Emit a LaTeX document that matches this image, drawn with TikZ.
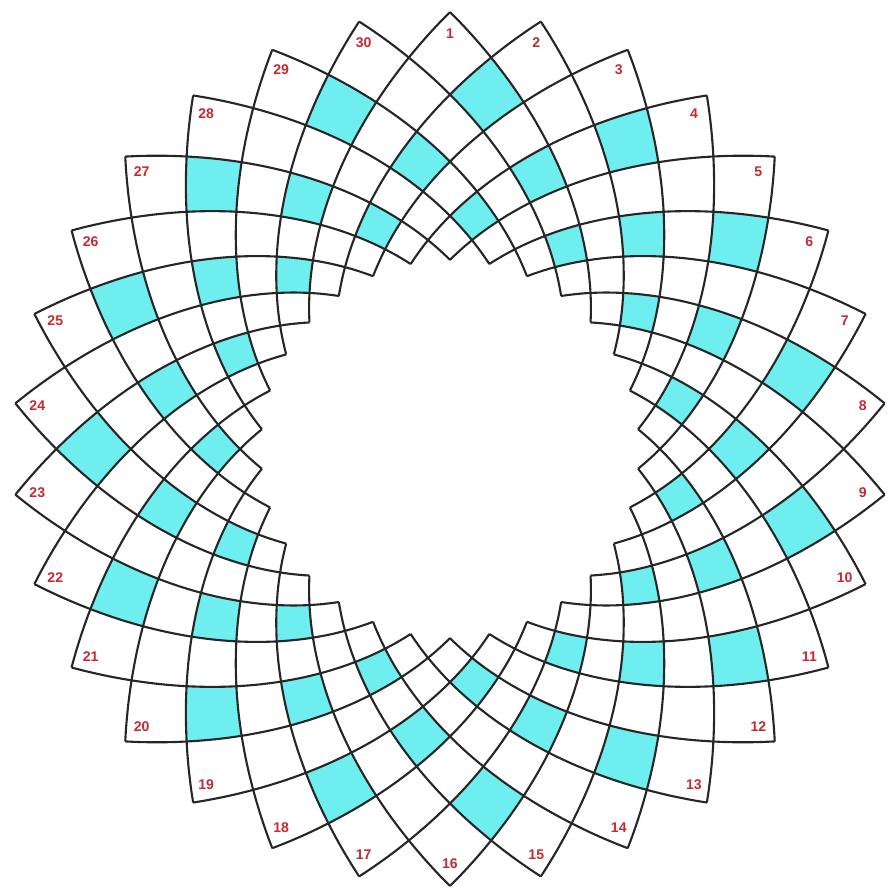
\documentclass[tikz,border=0pt]{standalone}
\usepackage{fontspec}
\setsansfont{Liberation Sans}
\definecolor{labred}{RGB}{200,40,50}
\definecolor{cellcyan}{RGB}{110,238,238}
\newcommand{\cyancell}[2]{%
  \fill[cyanfill] plot[domain=0:6,samples=7,variable=\t] ({#1-\t}:{rr(#2-6+\t)})
    -- plot[domain=0:6,samples=7,variable=\t] ({#1-6+\t}:{rr(#2+\t)})
    -- plot[domain=0:6,samples=7,variable=\t] ({#1+\t}:{rr(#2+6-\t)})
    -- plot[domain=0:6,samples=7,variable=\t] ({#1+6-\t}:{rr(#2-\t)}) -- cycle;}
\begin{document}
\begin{tikzpicture}[x=1cm,y=1cm,
  declare function={rr(\s)=4.37*exp(-\s*pi/180);},
  spir/.style={draw=black!85, line width=0.6pt, line join=round},
  cyanfill/.style={fill=cellcyan},
  lab/.style={text=labred, font=\sffamily\bfseries\fontsize{4}{4}\selectfont, inner sep=0pt}]
\useasboundingbox (0,0) rectangle (8.88,8.88);
\begin{scope}[shift={(4.50,4.39)}]
  \foreach \m in {0,...,14}{
    \pgfmathsetmacro{\ca}{90-6-24*\m}
    \pgfmathsetmacro{\cb}{90-18-24*\m}
    \cyancell{\ca}{12}
    \cyancell{\cb}{24}
    \cyancell{\ca}{36}
  }
  \foreach \k in {0,...,29}{
    \pgfmathsetmacro{\th}{90-12*\k}
    \pgfmathtruncatemacro{\num}{\k+1}
    \draw[spir] plot[domain=0:48,samples=40,variable=\t,smooth] ({\th-\t}:{rr(\t)});
    \draw[spir] plot[domain=0:48,samples=40,variable=\t,smooth] ({\th+\t}:{rr(\t)});
    \node[lab] (l\num) at ({\th}:4.15) {\num};
  }
\end{scope}
\end{tikzpicture}
\end{document}
